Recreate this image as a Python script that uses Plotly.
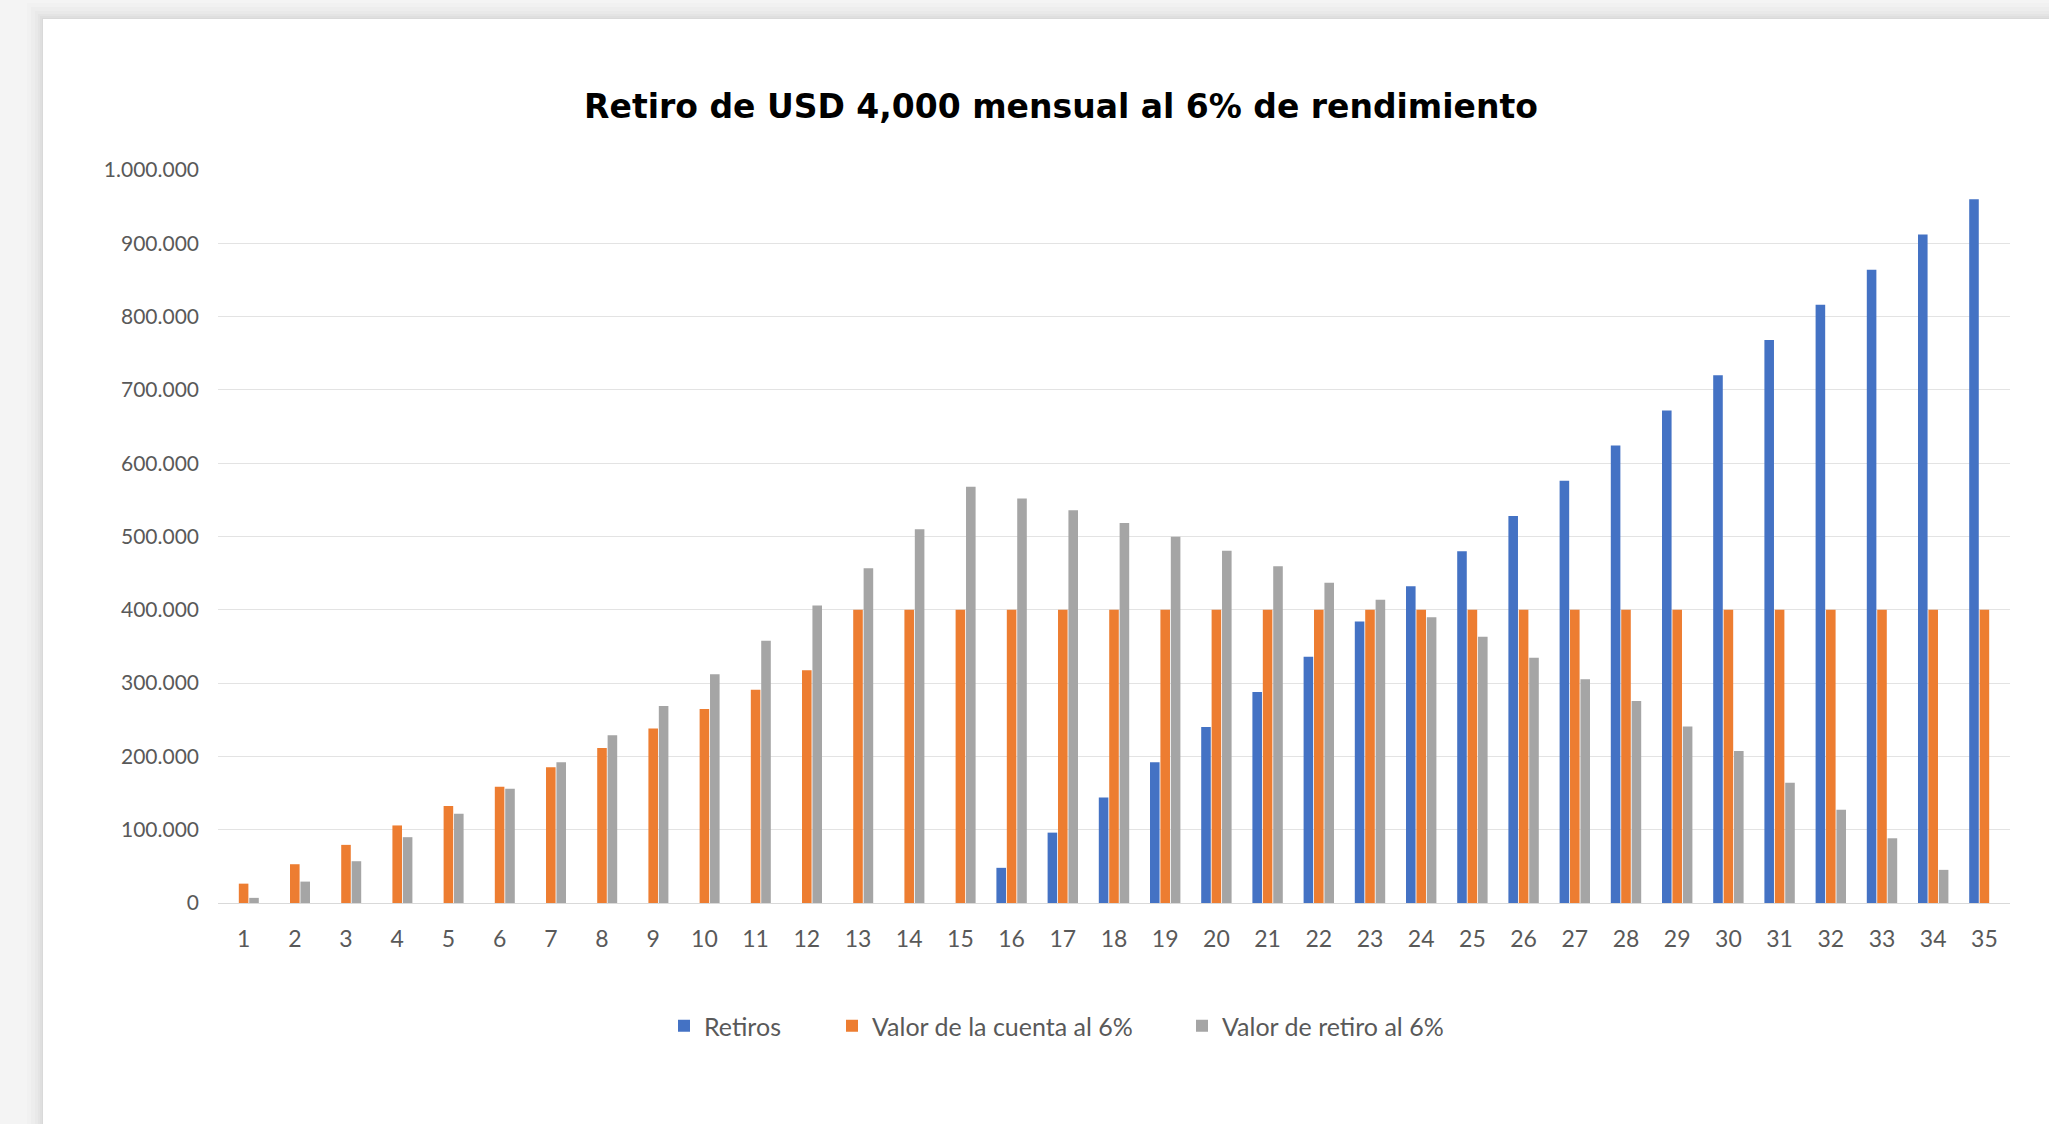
import plotly.graph_objects as go

# ---------------- data ----------------
years = ["1", "2", "3", "4", "5", "6", "7", "8", "9", "10", "11", "12", "13", "14", "15",
         "16", "17", "18", "19", "20", "21", "22", "23", "24", "25", "26", "27", "28", "29",
         "30", "31", "32", "33", "34", "35"]

retiros = [None, None, None, None, None, None, None, None, None, None, None, None, None, None, None,
           48000, 96000, 144000, 192000, 240000, 288000, 336000, 384000, 432000, 480000,
           528000, 576000, 624000, 672000, 720000, 768000, 816000, 864000, 912000, 960000]

valor_cuenta = [26400, 52900, 79300, 105800, 132300, 158700, 185100, 211600, 238000, 264500,
                290900, 317400, 400000, 400000, 400000, 400000, 400000, 400000, 400000, 400000,
                400000, 400000, 400000, 400000, 400000, 400000, 400000, 400000, 400000, 400000,
                400000, 400000, 400000, 400000, 400000]

valor_retiro = [7000, 29200, 57000, 89800, 121800, 156000, 192000, 228700, 268700, 312000,
                357800, 406000, 456600, 509800, 568000, 552000, 535700, 518400, 499800, 480700,
                459300, 437000, 413800, 389700, 363300, 334600, 305400, 275600, 240800, 207400,
                164000, 127300, 88300, 45200, 0]

series_names = ["Retiros", "Valor de la cuenta al 6%", "Valor de retiro al 6%"]
colors = ["#4472C4", "#ED7D31", "#A5A5A5"]
title_text = "Retiro de USD 4,000 mensual al 6% de rendimiento"

# ---------------- layout geometry ----------------
W, H = 2049, 1124
ML, MR, MT, MB = 218, 39, 170, 221
PW, PH = W - ML - MR, H - MT - MB


def px_x(px):
    return (px - ML) / PW


def px_y(py):
    return (H - MB - py) / PH


fig = go.Figure()
for name, vals, col, lg in zip(series_names, [retiros, valor_cuenta, valor_retiro], colors,
                               ["legend", "legend2", "legend3"]):
    fig.add_trace(go.Bar(name=name, x=years, y=vals, marker=dict(color=col, line=dict(width=0)),
                         legend=lg))

# background card with soft shadow
shapes = []
card_x0, card_y0 = 43, 19
for pad, op in [(16, 0.012), (12, 0.014), (8, 0.016), (5, 0.018), (3, 0.02), (1, 0.025)]:
    shapes.append(dict(type="rect", xref="paper", yref="paper", layer="below",
                       x0=px_x(card_x0 - pad), x1=px_x(W + 50),
                       y0=px_y(H + 50), y1=px_y(card_y0 - pad),
                       line=dict(width=0), fillcolor="black", opacity=op))
shapes.append(dict(type="rect", xref="paper", yref="paper", layer="below",
                   x0=px_x(card_x0), x1=px_x(W + 50), y0=px_y(H + 50), y1=px_y(card_y0),
                   line=dict(width=0), fillcolor="white"))

legend_common = dict(orientation="h", xref="container", yref="container", xanchor="left",
                     yanchor="middle", bgcolor="rgba(0,0,0,0)", borderwidth=0,
                     font=dict(family="Lato", size=25, color="#595959"))
leg_y = 1 - 1026 / H

fig.update_layout(
    width=W, height=H,
    margin=dict(l=ML, r=MR, t=MT, b=MB, autoexpand=False),
    paper_bgcolor="#f4f4f4",
    plot_bgcolor="white",
    separators=",.",
    barmode="group",
    bargap=0.39,
    bargroupgap=0.08,
    shapes=shapes,
    title=dict(text=title_text, xref="container", yref="container", x=1061 / W, xanchor="center",
               y=1 - 106 / H, yanchor="middle",
               font=dict(family="DejaVu Sans", size=33, color="#000000", weight=700)),
    xaxis=dict(type="category", showgrid=False, showline=True, linecolor="#D9D9D9", linewidth=1,
               ticks="", tickfont=dict(family="Lato", size=23, color="#595959"),
               ticklabelstandoff=15, zeroline=False),
    yaxis=dict(range=[0, 1000000], dtick=100000, tickformat=",d", showgrid=True,
               gridcolor="#E3E3E3", gridwidth=1, zeroline=False, showline=False, ticks="",
               tickfont=dict(family="Lato", size=21, color="#595959"), ticklabelstandoff=18),
    legend=dict(x=664 / W, y=leg_y, **legend_common),
    legend2=dict(x=832 / W, y=leg_y, **legend_common),
    legend3=dict(x=1182 / W, y=leg_y, **legend_common),
    showlegend=True,
)

fig.write_html(
    "out.html",
    config={"displayModeBar": False},
    post_script="document.body.style.margin='0';document.body.style.overflow='hidden';"
                "document.body.style.background='#f4f4f4';",
)
